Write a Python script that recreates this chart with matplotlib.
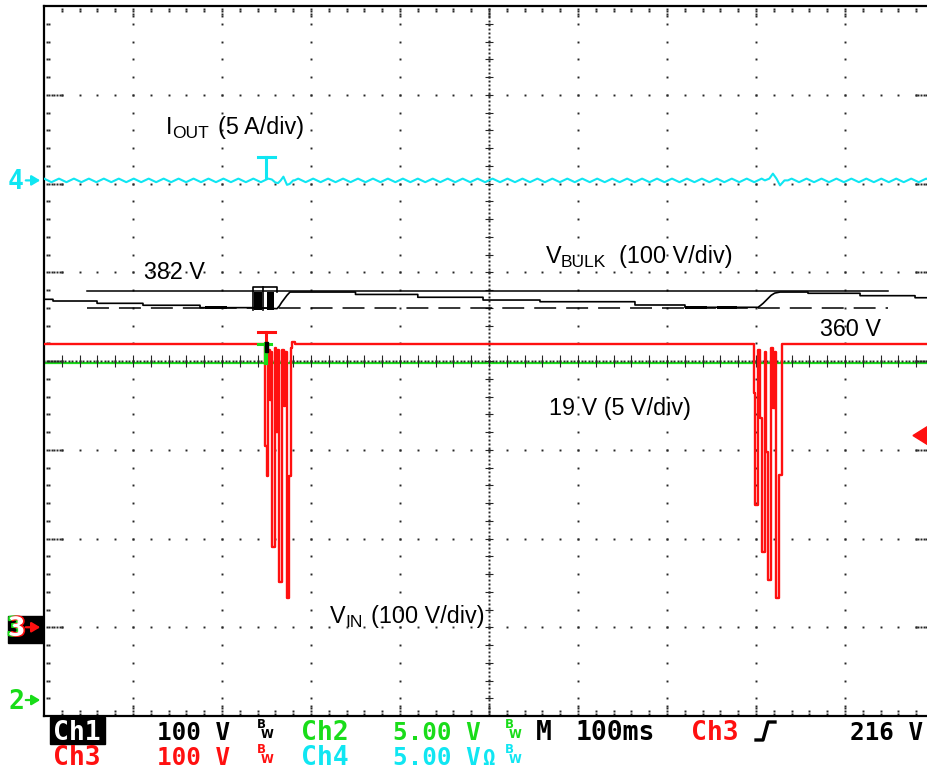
import numpy as np
import matplotlib
matplotlib.use("Agg")
import matplotlib.pyplot as plt
import matplotlib.patheffects as pe
from matplotlib.patches import Rectangle, Polygon

W, H = 928, 771
plt.rcParams['lines.scale_dashes'] = False
plt.rcParams['font.family'] = ['Liberation Sans', 'DejaVu Sans']

ms_per_div = 100
t_left = -250            # ms at left edge, trigger at 2.5 div
n_xdiv, n_ydiv = 10, 8
ch1_vdiv, ch1_gnd = 100, -3.0   # V/div, ground position in div
ch3_vdiv, ch3_gnd = 100, -3.0
ch2_vdiv, ch2_gnd = 5, -3.82
ch4_adiv, ch4_gnd = 5, 2.035
trig_level = 216

# ---------------- Ch3 : VIN ----------------
vin_t = [-250, -1.7, -1.7, 0.6, 0.6, 1.7, 1.7, 3.9, 3.9, 5.1, 5.1, 6.2, 6.2, 9.6, 9.6,
         10.7, 10.7, 12.9, 12.9, 14.0, 14.0, 17.4, 17.4, 19.7, 19.7, 20.8, 20.8, 23.0,
         23.0, 25.3, 25.3, 27.5, 27.5, 28.6, 28.6, 32.0, 32.0,
         547.2, 547.2, 548.9, 548.9, 552.3, 552.3, 554.5, 554.5, 556.7, 556.7, 560.1,
         560.1, 561.3, 561.3, 563.5, 563.5, 566.9, 566.9, 569.1, 569.1, 571.4, 571.4,
         572.5, 572.5, 575.8, 575.8, 578.7, 578.7, 750]
vin_v = [319.2, 319.2, 204.2, 204.2, 170.4, 170.4, 312.4, 312.4, 256.1, 256.1, 310.1,
         310.1, 90.4, 90.4, 314.6, 314.6, 220.0, 220.0, 312.4, 312.4, 51.0, 51.0, 312.4,
         312.4, 249.3, 249.3, 310.1, 310.1, 32.9, 32.9, 170.4, 170.4, 314.6, 314.6,
         321.4, 321.4, 319.2,
         319.2, 263.9, 263.9, 137.7, 137.7, 312.4, 312.4, 235.8, 235.8, 84.8, 84.8,
         310.1, 310.1, 197.5, 197.5, 53.2, 53.2, 314.6, 314.6, 247.0, 247.0, 310.1,
         310.1, 32.9, 32.9, 171.5, 171.5, 319.2, 319.2]

# ---------------- Ch1 : VBULK ----------------
vbulk_t = [-250, -239.9, -239.9, -190.4, -190.4, -138.8, -138.8, -74.7, -74.7, -14.7,
           11.8, 14.5, 17, 20, 23, 26.4, 100, 100, 170, 170, 243.3, 243.3, 307.3, 307.3,
           414.0, 414.0, 470.2, 470.2, 552.3, 555, 558, 561, 564, 567, 571, 577,
           608.4, 608.4, 666.9, 666.9, 728.7, 728.7, 750]
vbulk_v = [369.5, 369.5, 367.6, 367.6, 365.0, 365.0, 362.8, 362.8, 360.1, 360.1,
           359.0, 362, 366, 370, 374, 377.7, 377.7, 375.0, 375.0, 371.8, 371.8, 368.7,
           368.7, 366.8, 366.8, 363.1, 363.1, 360.5, 360.5, 362.5, 365, 368, 371, 374,
           376.5, 377.7, 377.7, 376.3, 376.3, 373.6, 373.6, 371.3, 371.3]
burst_spans = [(-13.9, -4.9), (0.6, 8.4)]
burst_low, burst_high, burst_top = 357.5, 377.7, 383.4
burst_edges = (-14.7, 11.5)
burst_line_t = -3.4
noise_spans = [(-69, -44), (470, 495), (506, 529)]
noise_low, noise_high = 359.0, 361.8

cursor_hi, cursor_lo = 378.9, 359.4
cursor_t0, cursor_t1 = -201.7, 698.3

# ---------------- Ch2 : VOUT ----------------
vout_t = [-250, 750]
vout_v = [19.0, 19.0]

# ---------------- Ch4 : IOUT ----------------
iout_ripple = [0.1, 0.0, -0.1, 0.0]   # repeating ripple shape (A)
ripple_step = 4.2                     # ms between ripple samples
iout_ev_t = [[6, 10, 13, 16, 19, 23, 26, 30], [560, 565, 569, 573, 577, 582]]
iout_ev_a = [[0.05, -0.12, -0.15, 0.0, 0.21, -0.25, -0.2, 0.0], [0.0, 0.1, 0.38, 0.1, -0.28, 0.0]]


def v2div(v, vpd, gnd):
    return np.asarray(v, dtype=float) / vpd + gnd


fig = plt.figure(figsize=(W / 100, H / 100), dpi=100)
fig.patch.set_facecolor('white')
ax = fig.add_axes([44 / W, 1 - 716 / H, 890 / W, 710 / H])
t_right = t_left + n_xdiv * ms_per_div
ax.set_xlim(t_left, t_right)
ax.set_ylim(-n_ydiv / 2, n_ydiv / 2)
ax.set_xticks([])
ax.set_yticks([])
for s in ax.spines.values():
    s.set_linewidth(1.6)
    s.set_color('black')

px_ms = 890 / (n_xdiv * ms_per_div)   # pixels per ms
px_div = 710 / n_ydiv                  # pixels per div
gcol = '#262626'
dot_kw = dict(ls='none', marker='s', ms=1.4, mew=0, color=gcol, zorder=2)

# ---------------- graticule ----------------
minor_t = t_left + np.arange(1, n_xdiv * 5) * ms_per_div / 5
minor_y = -n_ydiv / 2 + np.arange(1, n_ydiv * 5) * 0.2
for i in range(1, n_xdiv):
    tx = t_left + i * ms_per_div
    ax.plot(np.full_like(minor_y, tx), minor_y, **dot_kw)
for j in range(1, n_ydiv):
    yy = -n_ydiv / 2 + j
    ax.plot(minor_t, np.full_like(minor_t, yy), **dot_kw)

tc = t_left + 5 * ms_per_div
fine_y = np.arange(-4, 4.001, 0.045)
ax.plot(np.full_like(fine_y, tc), fine_y, **dot_kw)
fine_t = np.arange(t_left, t_right + 0.1, 4.0)
ax.plot(fine_t, np.zeros_like(fine_t), **dot_kw)
ax.hlines(minor_y, tc - 4 / px_ms, tc + 4 / px_ms, color=gcol, lw=0.8, zorder=2)
ax.vlines(minor_t, -6 / px_div, 6 / px_div, color=gcol, lw=0.8, zorder=2)


def stub_offsets(n):
    return 2.5 + np.arange(n) * 2.6


for ty in minor_y:
    n = 7 if abs(ty - round(ty)) < 1e-6 else 2
    off = stub_offsets(n)
    ax.plot(t_left + off / px_ms, np.full(n, ty), **dot_kw)
    ax.plot(t_right - off / px_ms, np.full(n, ty), **dot_kw)
for tx in minor_t:
    n = 4 if abs((tx - t_left) % ms_per_div) < 1e-6 else 2
    off = stub_offsets(n)
    ax.plot(np.full(n, tx), 4 - off / px_div, **dot_kw)
    ax.plot(np.full(n, tx), -4 + off / px_div, **dot_kw)

# ---------------- traces ----------------
green = '#19dc19'
cyan = '#10e6f2'
red = '#ff1010'

ax.plot(vout_t, v2div(vout_v, ch2_vdiv, ch2_gnd), color=green, lw=1.6, zorder=1.5)

# IOUT
rt = np.arange(t_left, t_right + 0.1, ripple_step)
ra = np.resize(np.array(iout_ripple), rt.size)
keep = np.ones(rt.size, bool)
for et in iout_ev_t:
    keep &= ~((rt >= et[0]) & (rt <= et[-1]))
it = np.concatenate([rt[keep]] + [np.array(e, float) for e in iout_ev_t])
ia = np.concatenate([ra[keep]] + [np.array(e, float) for e in iout_ev_a])
order = np.argsort(it)
ax.plot(it[order], v2div(ia[order], ch4_adiv, ch4_gnd), color=cyan, lw=1.5, zorder=3)

# VBULK
ax.plot(vbulk_t, v2div(vbulk_v, ch1_vdiv, ch1_gnd), color='black', lw=1.2, zorder=4)
for a, b in burst_spans:
    ax.fill_between([a, b], v2div(burst_low, ch1_vdiv, ch1_gnd),
                    v2div(burst_high, ch1_vdiv, ch1_gnd), color='black', lw=0, zorder=4)
for a, b in noise_spans:
    ax.fill_between([a, b], v2div(noise_low, ch1_vdiv, ch1_gnd),
                    v2div(noise_high, ch1_vdiv, ch1_gnd), color='black', lw=0, zorder=4)
e0, e1 = burst_edges
ax.plot([e0, e0, e1, e1], v2div([burst_low, burst_top, burst_top, burst_high], ch1_vdiv, ch1_gnd),
        color='black', lw=1.2, zorder=4)
ax.plot([burst_line_t, burst_line_t], v2div([burst_low, burst_top], ch1_vdiv, ch1_gnd),
        color='black', lw=1.2, zorder=4)

# cursors
ax.plot([cursor_t0, cursor_t1], v2div([cursor_hi, cursor_hi], ch1_vdiv, ch1_gnd),
        color='black', lw=1.1, zorder=4)
ax.plot([cursor_t0, cursor_t1], v2div([cursor_lo, cursor_lo], ch1_vdiv, ch1_gnd),
        color='black', lw=1.1, dashes=(15.8, 7.2), zorder=4)

# VIN
ax.plot(vin_t, v2div(vin_v, ch3_vdiv, ch3_gnd), color=red, lw=1.7, zorder=5)

# trigger position markers (T)
hw = 9.0
y_c = v2div(0, ch4_adiv, ch4_gnd)
ax.plot([-hw, hw], [y_c + 23 / px_div] * 2, color=cyan, lw=2.2, zorder=6)
ax.plot([0, 0], [y_c + 23 / px_div, y_c + 3 / px_div], color=cyan, lw=2.2, zorder=6)
y_r = v2div(vin_v[0], ch3_vdiv, ch3_gnd)
ax.plot([-hw, hw], [y_r + 12 / px_div] * 2, color=red, lw=2.2, zorder=6)
ax.plot([0, 0], [y_r + 12 / px_div, y_r], color=red, lw=2.2, zorder=6)
y_g = v2div(vout_v[0], ch2_vdiv, ch2_gnd)
ax.plot([-10, 5], [y_r, y_r], color=green, lw=2.2, zorder=6)
ax.plot([0, 0], [y_r, y_g], color=green, lw=3.0, zorder=6)
ax.add_patch(Rectangle((-1.6, y_r - 8 / px_div), 3.2, 10 / px_div, color='black', zorder=7))

# trigger level marker (right edge)
yl = v2div(trig_level, ch3_vdiv, ch3_gnd)
ax.add_patch(Polygon([[t_left + (913 - 44) / px_ms, yl],
                      [t_left + (929 - 44) / px_ms, yl + 10 / px_div],
                      [t_left + (929 - 44) / px_ms, yl - 10 / px_div]],
                     closed=True, color=red, zorder=7, clip_on=False))

# ---------------- annotations ----------------
def fx(x):
    return x / W


def fy(y):
    return 1 - y / H


lab = dict(fontsize=16.8, color='black', va='baseline', ha='left', family='Liberation Sans')
sub = dict(fontsize=12.5, color='black', va='baseline', ha='left', family='Liberation Sans')
fig.text(fx(166), fy(134), 'I', **lab)
fig.text(fx(172), fy(138), 'OUT', **sub)
fig.text(fx(218), fy(134), '(5 A/div)', **lab)
fig.text(fx(144), fy(279), '382 V', **lab)
fig.text(fx(546), fy(263), 'V', **lab)
fig.text(fx(561), fy(267), 'BULK', **sub)
fig.text(fx(619), fy(263), '(100 V/div)', **lab)
fig.text(fx(820), fy(336), '360 V', **lab)
fig.text(fx(549), fy(415), '19 V (5 V/div)', **lab)
fig.text(fx(330), fy(623), 'V', **lab)
fig.text(fx(345), fy(627), 'IN', **sub)
fig.text(fx(371), fy(623), '(100 V/div)', **lab)

# ---------------- channel ground markers (left) ----------------
mono = dict(fontsize=19, va='baseline', ha='left', family='DejaVu Sans Mono', weight='bold')
num = dict(mono, fontsize=17.5)


def gnd_y(div):
    return 6 + (n_ydiv / 2 - div) * px_div


def arrow(y, col):
    fig.add_artist(matplotlib.patches.FancyArrowPatch(
        (fx(23), fy(y)), (fx(43), fy(y)), transform=fig.transFigure,
        arrowstyle='-|>,head_length=5,head_width=3', color=col, lw=1.6,
        mutation_scale=1))


y4 = gnd_y(ch4_gnd)
fig.text(fx(8), fy(y4 + 8.5), '4', color=cyan, **mono)
arrow(y4, cyan)
y3 = gnd_y(ch3_gnd)
fig.add_artist(Rectangle((fx(8), fy(y3 + 16)), 35 / W, 27 / H, transform=fig.transFigure,
                         color='black', zorder=1))
fig.text(fx(8.5), fy(y3 + 8.5), '3', color='white',
         path_effects=[pe.Stroke(offset=(-1.2, 0), linewidth=1.2, foreground=green),
                       pe.Stroke(offset=(1.2, 0), linewidth=1.2, foreground=red),
                       pe.Normal()], **mono)
arrow(y3, red)
y2 = gnd_y(ch2_gnd)
fig.text(fx(8), fy(y2 + 8.5), '2', color=green, **mono)
arrow(y2, green)

# ---------------- status bar ----------------
fig.add_artist(Rectangle((fx(50), fy(744)), 55 / W, 27 / H, transform=fig.transFigure,
                         color='black', zorder=1))
r1, r2 = 740, 765
fig.text(fx(53), fy(r1), 'Ch1', color='white', **mono)
fig.text(fx(157), fy(r1), '100 V', color='black', **num)
fig.text(fx(301), fy(r1), 'Ch2', color=green, **mono)
fig.text(fx(393), fy(r1), '5.00 V', color=green, **num)
fig.text(fx(536), fy(r1), 'M', color='black', **mono)
fig.text(fx(576), fy(r1), '100ms', color='black', **mono)
fig.text(fx(691), fy(r1), 'Ch3', color=red, **mono)
fig.text(fx(923), fy(r1), '216 V', color='black', **{**num, 'ha': 'right'})
fig.text(fx(53), fy(r2), 'Ch3', color=red, **mono)
fig.text(fx(157), fy(r2), '100 V', color=red, **num)
fig.text(fx(301), fy(r2), 'Ch4', color=cyan, **mono)
fig.text(fx(393), fy(r2), '5.00 V', color=cyan, **num)
fig.text(fx(482), fy(r2), 'Ω', color=cyan, **dict(num, fontsize=15))

bw_kw = dict(fontsize=12, va='baseline', ha='left')
bw_txt = r'$^{\mathbf{B}}\!\!_{\mathbf{W}}$'
for (x0, yb, col) in [(256, r1, 'black'), (256, r2, red), (504, r1, green), (504, r2, cyan)]:
    fig.text(fx(x0), fy(yb - 4), bw_txt, color=col, **bw_kw)

# trigger slope symbol
fig.add_artist(plt.Line2D([fx(756), fx(763), fx(768), fx(775)],
                          [fy(740), fy(740), fy(722), fy(722)],
                          transform=fig.transFigure, color='black', lw=2.4))

fig.savefig('out.png', dpi=100)
